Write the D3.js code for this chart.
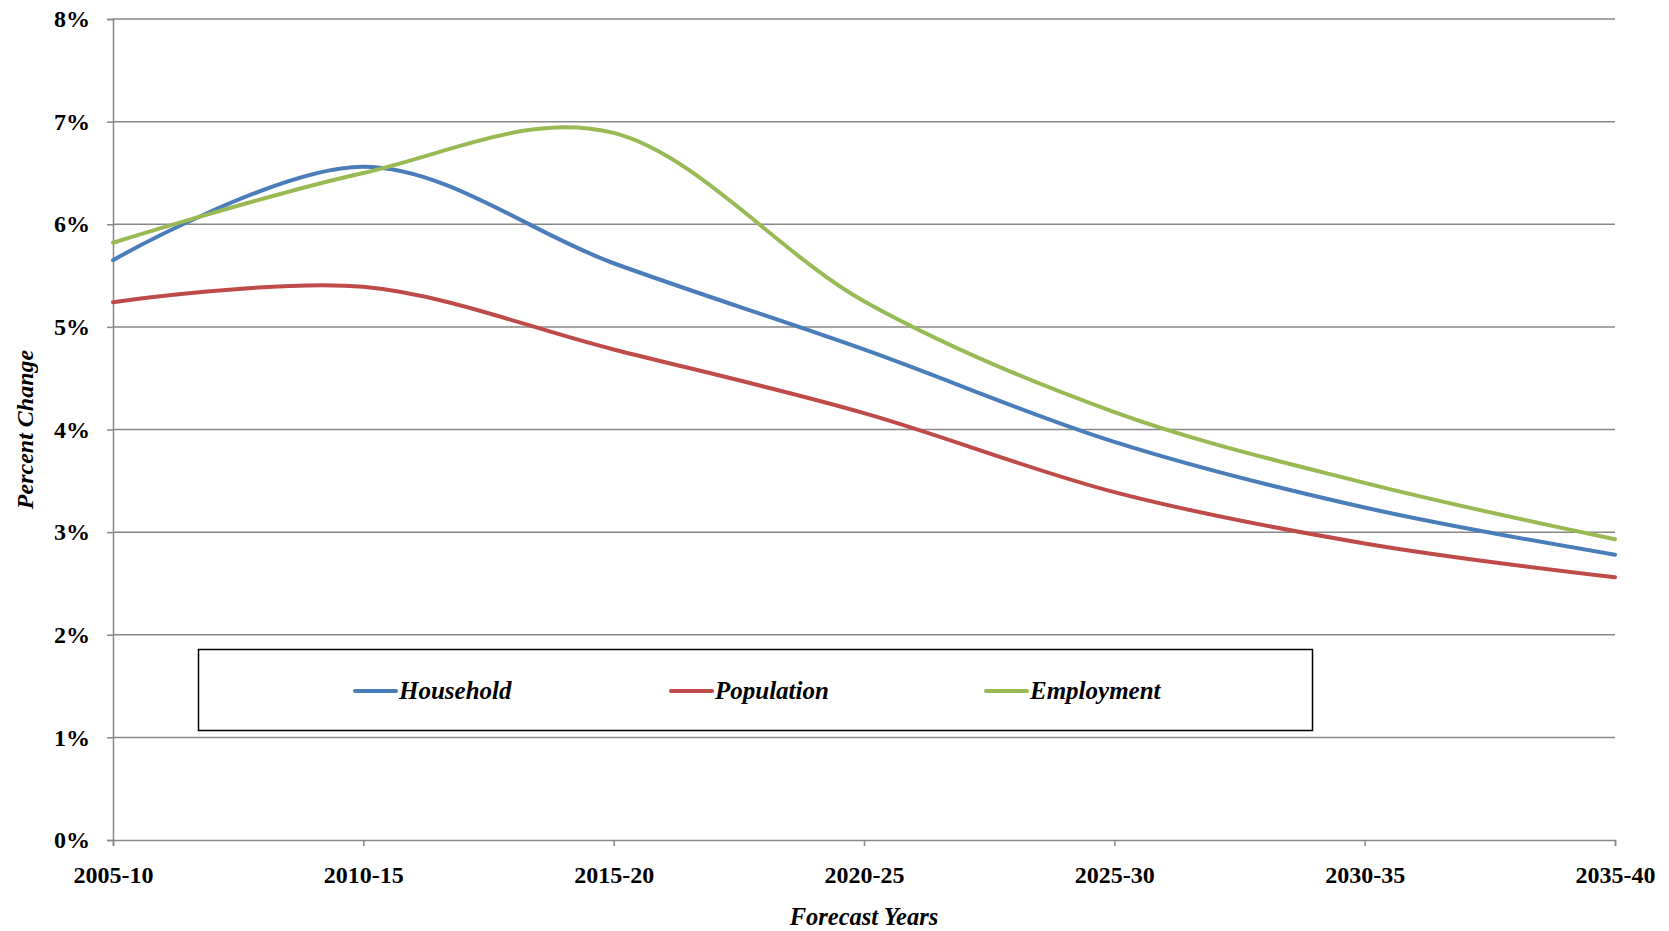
<!DOCTYPE html>
<html>
<head>
<meta charset="utf-8">
<script src="https://cdn.jsdelivr.net/npm/d3@7"></script>
<style>
  html, body { margin: 0; padding: 0; background: #fff; }
  svg { display: block; }
  text { font-family: "Liberation Serif", "Times New Roman", serif; font-weight: bold; fill: #000; }
</style>
</head>
<body>
<svg id="chart" width="1669" height="931"></svg>
<script>
// Forecast periods on the x axis
const periods = ["2005-10", "2010-15", "2015-20", "2020-25", "2025-30", "2030-35", "2035-40"];

// Percent change per five-year period
const household  = [5.65, 6.56, 5.62, 4.78, 3.88, 3.24, 2.78];
const population = [5.24, 5.39, 4.78, 4.16, 3.39, 2.89, 2.56];
const employment = [5.82, 6.50, 6.89, 5.25, 4.17, 3.48, 2.93];

const seriesNames = ["Household", "Population", "Employment"];
const seriesColors = ["#4A7EBB", "#BE4B48", "#98B954"];
const yTicks = [0, 1, 2, 3, 4, 5, 6, 7, 8];

const series = [household, population, employment].map((values, i) => ({
  name: seriesNames[i],
  color: seriesColors[i],
  values
}));

const svg = d3.select("#chart");
const margin = { left: 113, right: 1669 - 1615, top: 19, bottom: 931 - 840 };
const width = 1669, height = 931;

const x = d3.scalePoint().domain(periods).range([margin.left, width - margin.right]);
const y = d3.scaleLinear().domain([0, 8]).range([height - margin.bottom, margin.top]);

const gridColor = "#878787";

// Horizontal gridlines
svg.append("g")
  .selectAll("line")
  .data(yTicks.filter(d => d > 0))
  .join("line")
  .attr("x1", margin.left)
  .attr("x2", width - margin.right)
  .attr("y1", d => y(d))
  .attr("y2", d => y(d))
  .attr("stroke", gridColor)
  .attr("stroke-width", 1.5);

// Y axis
const yAxis = svg.append("g")
  .attr("transform", `translate(${margin.left},0)`)
  .call(d3.axisLeft(y).tickValues(yTicks).tickFormat(d => d + "%").tickSize(6).tickPadding(17));
yAxis.select(".domain").attr("stroke", gridColor).attr("stroke-width", 1.5);
yAxis.selectAll(".tick line").attr("stroke", gridColor).attr("stroke-width", 1.5);
yAxis.selectAll("text")
  .attr("font-size", 24)
  .attr("font-family", "Liberation Serif, Times New Roman, serif")
  .attr("font-weight", "bold")
  .attr("fill", "#000");

// X axis
const xAxis = svg.append("g")
  .attr("transform", `translate(0,${height - margin.bottom})`)
  .call(d3.axisBottom(x).tickSize(6).tickPadding(20));
xAxis.select(".domain").attr("stroke", gridColor).attr("stroke-width", 1.5);
xAxis.selectAll(".tick line").attr("stroke", gridColor).attr("stroke-width", 1.5);
xAxis.selectAll("text")
  .attr("font-size", 24)
  .attr("font-family", "Liberation Serif, Times New Roman, serif")
  .attr("font-weight", "bold")
  .attr("fill", "#000");

// Axis titles
svg.append("text")
  .attr("x", (margin.left + width - margin.right) / 2)
  .attr("y", 925)
  .attr("text-anchor", "middle")
  .attr("font-size", 24.5)
  .attr("font-style", "italic")
  .text("Forecast Years");

svg.append("text")
  .attr("transform", `translate(33,${(margin.top + height - margin.bottom) / 2}) rotate(-90)`)
  .attr("text-anchor", "middle")
  .attr("font-size", 24)
  .attr("font-style", "italic")
  .text("Percent Change");

// Smoothed series lines
const line = d3.line()
  .x((d, i) => x(periods[i]))
  .y(d => y(d))
  .curve(d3.curveCardinal.tension(0));

svg.append("g")
  .selectAll("path")
  .data(series)
  .join("path")
  .attr("d", d => line(d.values))
  .attr("fill", "none")
  .attr("stroke", d => d.color)
  .attr("stroke-width", 4)
  .attr("stroke-linecap", "round");

// Legend
const legend = svg.append("g");
legend.append("rect")
  .attr("x", 198.5)
  .attr("y", 649.5)
  .attr("width", 1114)
  .attr("height", 81)
  .attr("fill", "#fff")
  .attr("stroke", "#000")
  .attr("stroke-width", 1.5);

const legendX = [355, 671, 986];
const legendY = 691;
const item = legend.selectAll("g.item")
  .data(series)
  .join("g")
  .attr("class", "item")
  .attr("transform", (d, i) => `translate(${legendX[i]},${legendY})`);
item.append("line")
  .attr("x1", 0).attr("x2", 41)
  .attr("y1", 0).attr("y2", 0)
  .attr("stroke", d => d.color)
  .attr("stroke-width", 4)
  .attr("stroke-linecap", "round");
item.append("text")
  .attr("x", 44)
  .attr("y", 8)
  .attr("font-size", 25)
  .attr("font-style", "italic")
  .text(d => d.name);
</script>
</body>
</html>
